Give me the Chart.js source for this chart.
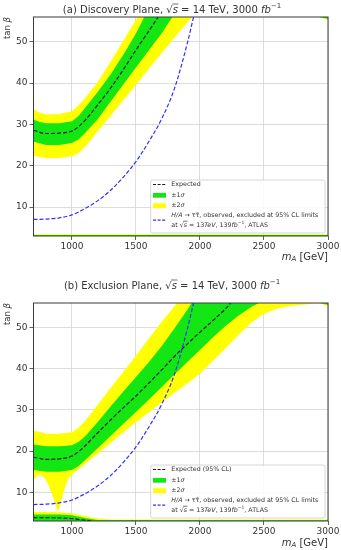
<!DOCTYPE html>
<html>
<head>
<meta charset="utf-8">
<script src="https://cdn.jsdelivr.net/npm/chart.js@4.4.1/dist/chart.umd.min.js"></script>
<style>
  body { margin: 0; background: #fff; }
  .panel { position: absolute; left: 0; width: 341px; height: 275px; }
</style>
</head>
<body>
<div class="panel" style="top:0"><canvas id="chart-a" width="341" height="275"></canvas></div>
<div class="panel" style="top:275px"><canvas id="chart-b" width="341" height="275"></canvas></div>
<script>
// axis ticks (m_A in GeV, tan beta)
const X_TICKS = [1000, 1500, 2000, 2500, 3000];
const Y_TICKS = [10, 20, 30, 40, 50];

// (a) discovery plane
const aExpMass = [700, 800, 900, 1000, 1050, 1100, 1200, 1300, 1400, 1500, 1600, 1673];
const aExpTan = [28.6, 27.8, 27.9, 28.4, 29.4, 30.9, 34.7, 38.7, 43.2, 48, 52.6, 56];
const aOneUpMass = [700, 750, 800, 900, 1000, 1050, 1100, 1200, 1300, 1400, 1500, 1565, 3000];
const aOneUpTan = [31.2, 30.6, 30.3, 30.3, 30.8, 32, 33.9, 37.8, 42, 46.8, 52, 56, 56];
const aOneLoMass = [700, 800, 900, 1000, 1050, 1100, 1200, 1300, 1400, 1500, 1600, 1700, 1785, 3000];
const aOneLoTan = [25.8, 25, 25, 25.5, 26.3, 27.8, 31.2, 35.4, 39.6, 43.8, 47.9, 52, 56, 56];
const aTwoUpMass = [700, 750, 800, 900, 1000, 1050, 1100, 1200, 1300, 1400, 1500, 1513, 3000];
const aTwoUpTan = [33.6, 32.8, 32.4, 32.5, 33.2, 34.6, 36.3, 40.2, 45.1, 50.2, 55.3, 56, 56];
const aTwoLoMass = [700, 800, 900, 1000, 1050, 1100, 1150, 1200, 1300, 1400, 1500, 1600, 1700, 1800, 1900, 1940, 3000];
const aTwoLoTan = [22.4, 21.8, 21.9, 22.3, 23, 24.5, 26.3, 28.3, 32, 35.8, 39.6, 43.4, 47.2, 51, 54.6, 56, 56];
const aObsMass = [700, 800, 900, 1000, 1100, 1200, 1300, 1400, 1500, 1600, 1700, 1800, 1900, 1950];
const aObsTan = [7, 7.1, 7.4, 8.1, 9.6, 11.5, 14, 17.2, 21, 25.8, 31.3, 38.6, 49.5, 56];
const aLowMass = [700, 3000];
const aLowOneTan = [3.25, 3.25];
const aLowTwoTan = [3.45, 3.45];
const aCornerMass = [2930, 3000];
const aCornerTwoTan = [56, 55.3];
const aCornerOneTan = [56, 55.6];

// (b) exclusion plane
const bExpMass = [700, 800, 900, 1000, 1050, 1100, 1200, 1300, 1400, 1500, 1600, 1700, 1800, 1900, 2000, 2100, 2200, 2240];
const bExpTan = [18.5, 18, 18.1, 18.8, 19.8, 21.2, 24.4, 27.5, 30.5, 33.4, 36.5, 39.7, 43, 46, 48.9, 51.7, 54.6, 56];
const bOneUpMass = [700, 800, 900, 1000, 1050, 1100, 1200, 1300, 1400, 1500, 1600, 1700, 1800, 1900, 1935, 3000];
const bOneUpTan = [21.6, 21.2, 21.2, 21.4, 22.2, 23.5, 27, 30.8, 34.4, 38, 41.6, 45.5, 49.8, 54.3, 56, 56];
const bOneLoMass = [700, 800, 900, 1000, 1050, 1100, 1200, 1300, 1400, 1500, 1600, 1700, 1800, 1900, 2000, 2100, 2200, 2300, 2400, 2460, 3000];
const bOneLoTan = [15.4, 15, 15, 15.4, 16.3, 17.7, 20.6, 23.6, 26.6, 29.5, 32.5, 35.5, 38.6, 41.6, 44.6, 47.6, 50.4, 52.9, 55, 56, 56];
const bTwoUpMass = [700, 800, 900, 1000, 1050, 1100, 1200, 1300, 1400, 1500, 1600, 1700, 1800, 1820, 3000];
const bTwoUpTan = [25, 24.2, 24.2, 24.6, 25.6, 27.2, 31.2, 35.2, 39.2, 43.2, 47.3, 51.4, 55.2, 56, 56];
const bTwoLoMass = [700, 730, 760, 790, 820, 850, 870, 890, 910, 930, 950, 970, 1000, 1100, 1200, 1300, 1400, 1500, 1600, 1700, 1800, 1900, 2000, 2100, 2200, 2300, 2400, 2500, 2600, 2700, 2800, 2900, 3000];
const bTwoLoTan = [13, 14, 14.2, 13.3, 11.5, 9, 7, 5.1, 7, 9.5, 11.5, 13.1, 14.3, 16.8, 19.3, 21.9, 24.5, 27, 29.4, 31.8, 34.1, 36.4, 38.8, 41.9, 45, 48.2, 51.2, 53.4, 54.6, 55.2, 55.6, 55.9, 56];
const bObsMass = aObsMass;
const bObsTan = aObsTan;
const bLowExpMass = [700, 800, 900, 1000, 1050, 1100, 1150];
const bLowExpTan = [3.8, 3.8, 3.75, 3.6, 3.4, 3.2, 3.05];
const bLowOneMass = [700, 900, 1000, 1100, 1200, 3000];
const bLowOneTan = [4.6, 4.6, 4.4, 3.7, 3.25, 3.2];
const bLowTwoMass = [700, 800, 900, 1000, 1100, 1200, 1300, 3000];
const bLowTwoTan = [5.2, 5.2, 5.1, 4.9, 4.2, 3.6, 3.35, 3.35];
const bCornerMass = [2930, 3000];
const bCornerTwoTan = [56, 55.3];
const bCornerOneTan = [56, 55.6];

const COLORS = { exp: '#1c1c1c', obs: '#3030ff', one: '#14e614', two: '#ffff00', grid: '#d4d4d4', text: '#333333', frame: '#3a3a3a' };
const FONT = '"DejaVu Sans", sans-serif';

const pts = (xs, ys) => xs.map((x, i) => ({ x, y: ys[i] }));

function curve(xs, ys, color) {
  return { data: pts(xs, ys), borderColor: color, borderWidth: 1.2, borderDash: [4, 2], fill: false, pointRadius: 0, cubicInterpolationMode: 'monotone' };
}
function band(xs, ys, color, fill) {
  return { data: pts(xs, ys), borderColor: 'rgba(0,0,0,0)', borderWidth: 1, backgroundColor: color, fill, pointRadius: 0, tension: 0 };
}

// text drawn as runs so italics / sub / superscripts can mix
function runFont(r, size) { return `${r.it ? 'italic ' : ''}${r.sz || size}px ${FONT}`; }
function runsWidth(ctx, runs, size) {
  return runs.reduce((w, r) => { ctx.font = runFont(r, size); return w + ctx.measureText(r.t).width; }, 0);
}
function drawRuns(ctx, runs, x, y, size, align) {
  let cx = x;
  if (align === 'center') cx -= runsWidth(ctx, runs, size) / 2;
  if (align === 'right') cx -= runsWidth(ctx, runs, size);
  ctx.textAlign = 'left';
  ctx.textBaseline = 'middle';
  for (const r of runs) {
    ctx.font = runFont(r, size);
    const w = ctx.measureText(r.t).width;
    ctx.fillText(r.t, cx, y + (r.dy || 0));
    if (r.ov) {
      ctx.beginPath();
      ctx.moveTo(cx - 0.5, y - size * 0.6);
      ctx.lineTo(cx + w + 0.5, y - size * 0.6);
      ctx.lineWidth = 0.7;
      ctx.strokeStyle = ctx.fillStyle;
      ctx.stroke();
    }
    cx += w;
  }
}

const OBS_TEXT = [
  [{ t: 'H/A', it: 1 }, { t: ' \u2192 \u03c4\u03c4\u0304, observed, excluded at 95% CL limits' }],
  [{ t: 'at \u221a' }, { t: 's', it: 1, ov: 1 }, { t: ' = 13' }, { t: 'TeV', it: 1 }, { t: ', 139' }, { t: 'fb', it: 1 }, { t: '\u22121', sz: 4.5, dy: -2 }, { t: ', ATLAS' }]
];

const decor = {
  id: 'decor',
  afterDraw(chart, args, o) {
    const { ctx, chartArea: a } = chart;
    ctx.save();
    ctx.strokeStyle = COLORS.frame;
    ctx.lineWidth = 1;
    ctx.strokeRect(a.left, a.top, a.right - a.left, a.bottom - a.top);

    ctx.fillStyle = COLORS.text;
    drawRuns(ctx, o.title, o.titleX, o.titleY, 10, 'center');
    drawRuns(ctx, [{ t: 'm', it: 1 }, { t: 'A', it: 1, sz: 7, dy: 2 }, { t: ' [GeV]' }], a.right, a.bottom + o.xLabelGap, 10, 'right');
    ctx.save();
    ctx.translate(8, a.top);
    ctx.rotate(-Math.PI / 2);
    drawRuns(ctx, [{ t: 'tan ' }, { t: '\u03b2', it: 1 }], 0, 0, 8.5, 'right');
    ctx.restore();

    // legend
    const l = a.right - 177.3, r = a.right - 3, t = a.bottom - 56, b = a.bottom - 3;
    ctx.beginPath();
    ctx.roundRect(l, t, r - l, b - t, 2);
    ctx.fillStyle = 'rgba(255,255,255,0.85)';
    ctx.fill();
    ctx.strokeStyle = '#cccccc';
    ctx.lineWidth = 0.8;
    ctx.stroke();
    const rows = [
      { kind: 'line', color: COLORS.exp, y: [4.5], lines: [[{ t: o.expLabel }]] },
      { kind: 'box', color: COLORS.one, y: [15.3], lines: [[{ t: '\u00b11' }, { t: '\u03c3', it: 1 }]] },
      { kind: 'box', color: COLORS.two, y: [25.7], lines: [[{ t: '\u00b12' }, { t: '\u03c3', it: 1 }]] },
      { kind: 'line', color: COLORS.obs, y: [35.3, 45], lines: OBS_TEXT }
    ];
    for (const row of rows) {
      const hy = t + (row.y[0] + row.y[row.y.length - 1]) / 2;
      if (row.kind === 'line') {
        ctx.beginPath();
        ctx.setLineDash([3, 1.6]);
        ctx.moveTo(l + 2.3, hy);
        ctx.lineTo(l + 15.3, hy);
        ctx.strokeStyle = row.color;
        ctx.lineWidth = 1.2;
        ctx.stroke();
        ctx.setLineDash([]);
      } else {
        ctx.fillStyle = row.color;
        ctx.fillRect(l + 2.3, hy - 2.4, 13, 4.8);
      }
      ctx.fillStyle = COLORS.text;
      row.lines.forEach((runs, i) => drawRuns(ctx, runs, l + 20.6, t + row.y[i], 6.3, 'left'));
    }
    ctx.restore();
  }
};

function axis(min, max, ticks, extra) {
  return Object.assign({
    type: 'linear', min, max,
    afterBuildTicks: s => { s.ticks = ticks.map(v => ({ value: v })); },
    grid: { color: COLORS.grid, lineWidth: 0.8, tickColor: COLORS.frame, tickLength: 4 },
    border: { display: false },
    ticks: { color: COLORS.text, font: { family: FONT, size: 9 }, maxRotation: 0, autoSkip: false, callback: v => String(v) }
  }, extra);
}

function makeChart(id, datasets, top, xHeight, deco) {
  const x = axis(700, 3000, X_TICKS, { afterFit: s => { s.height = xHeight; } });
  x.ticks.padding = 1;
  const y = axis(3, 56, Y_TICKS, { afterFit: s => { s.width = 33.5; } });
  y.ticks.padding = 2;
  return new Chart(document.getElementById(id), {
    type: 'line',
    data: { datasets },
    options: {
      responsive: false, animation: false, devicePixelRatio: 1,
      layout: { padding: { top, right: 13, bottom: 0, left: 0 } },
      plugins: { legend: { display: false }, tooltip: { enabled: false }, decor: deco },
      scales: { x, y }
    },
    plugins: [decor]
  });
}

makeChart('chart-a', [
  curve(aExpMass, aExpTan, COLORS.exp),
  curve(aObsMass, aObsTan, COLORS.obs),
  band(aOneUpMass, aOneUpTan, COLORS.one, '+1'),
  band(aOneLoMass, aOneLoTan, COLORS.one, false),
  band(aTwoUpMass, aTwoUpTan, COLORS.two, '+1'),
  band(aTwoLoMass, aTwoLoTan, COLORS.two, false),
  band(aLowMass, aLowOneTan, COLORS.one, 'start'),
  band(aLowMass, aLowTwoTan, COLORS.two, 'start'),
  band(aCornerMass, aCornerOneTan, COLORS.one, 'end'),
  band(aCornerMass, aCornerTwoTan, COLORS.two, 'end')
], 17, 39, {
  title: [{ t: '(a) Discovery Plane, \u221a' }, { t: 's', it: 1, ov: 1 }, { t: ' = 14 TeV, 3000 ' }, { t: 'fb', it: 1 }, { t: '\u22121', sz: 7, dy: -3.5 }],
  titleX: 172, titleY: 10, xLabelGap: 21, expLabel: 'Expected'
});

makeChart('chart-b', [
  curve(bExpMass, bExpTan, COLORS.exp),
  curve(bObsMass, bObsTan, COLORS.obs),
  curve(bLowExpMass, bLowExpTan, COLORS.exp),
  band(bOneUpMass, bOneUpTan, COLORS.one, '+1'),
  band(bOneLoMass, bOneLoTan, COLORS.one, false),
  band(bTwoUpMass, bTwoUpTan, COLORS.two, '+1'),
  band(bTwoLoMass, bTwoLoTan, COLORS.two, false),
  band(bLowOneMass, bLowOneTan, COLORS.one, 'start'),
  band(bLowTwoMass, bLowTwoTan, COLORS.two, 'start'),
  band(bCornerMass, bCornerOneTan, COLORS.one, 'end'),
  band(bCornerMass, bCornerTwoTan, COLORS.two, 'end')
], 28, 29, {
  title: [{ t: '(b) Exclusion Plane, \u221a' }, { t: 's', it: 1, ov: 1 }, { t: ' = 14 TeV, 3000 ' }, { t: 'fb', it: 1 }, { t: '\u22121', sz: 7, dy: -3.5 }],
  titleX: 172, titleY: 11, xLabelGap: 22, expLabel: 'Expected (95% CL)'
});
</script>
</body>
</html>
